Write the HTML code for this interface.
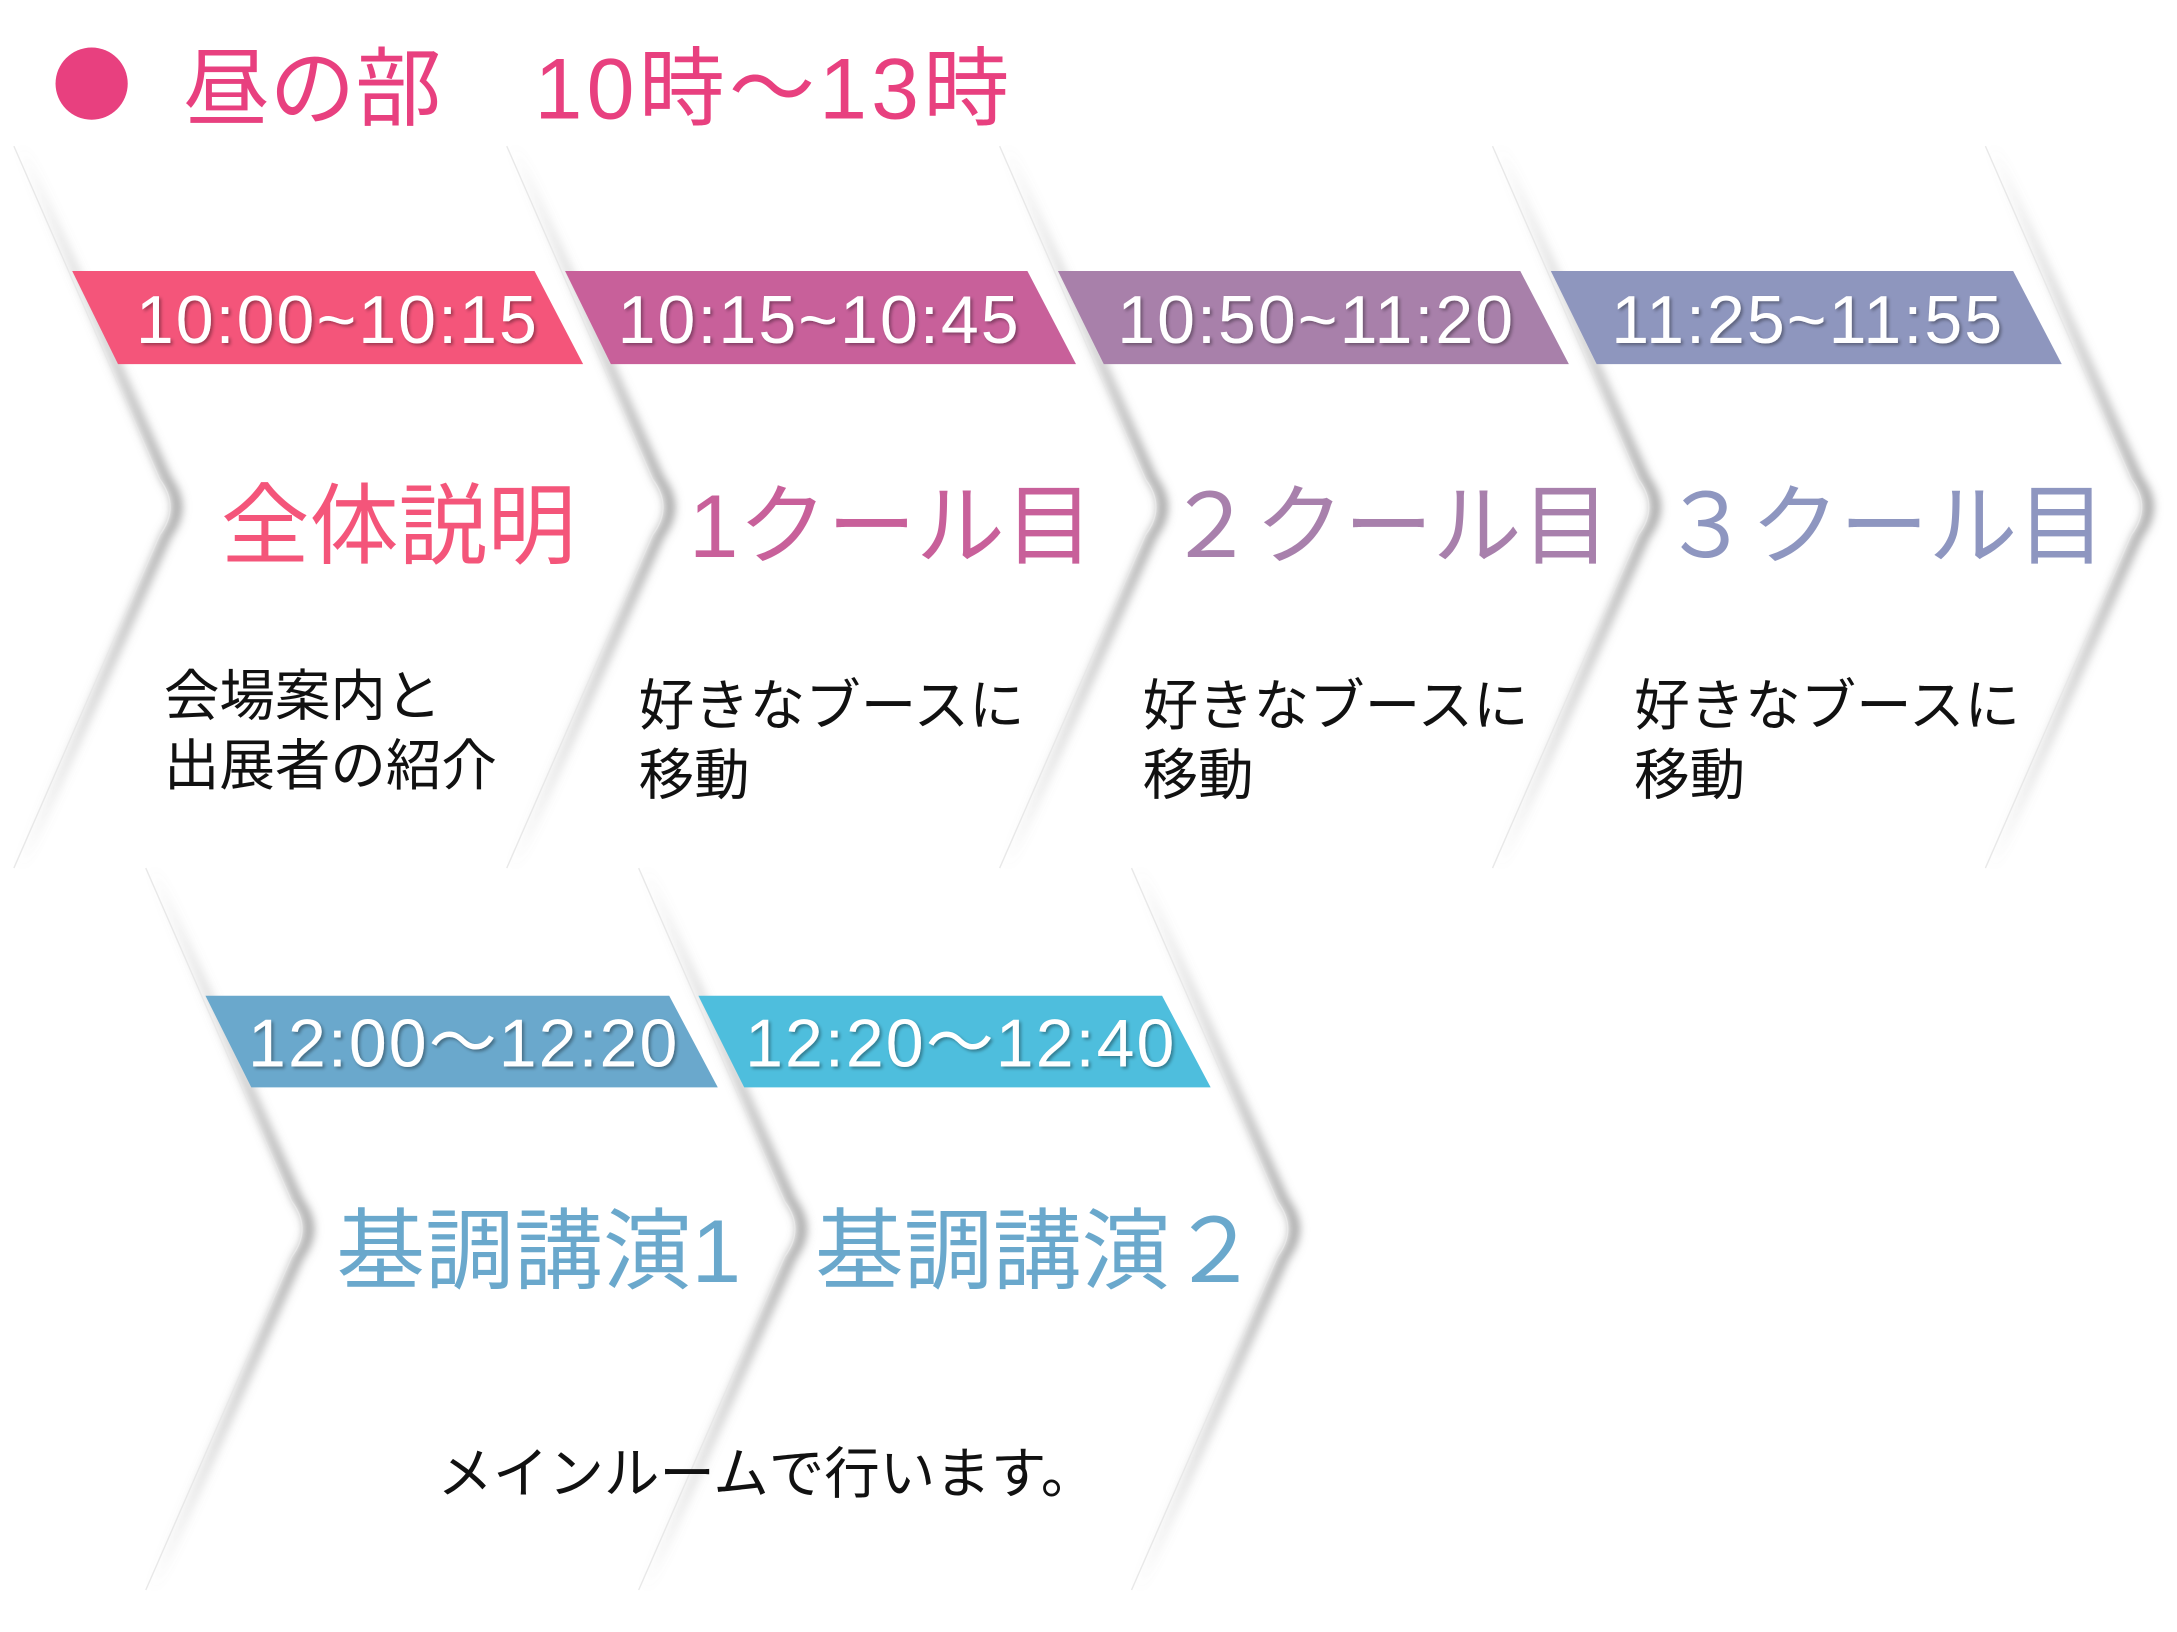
<!DOCTYPE html>
<html><head><meta charset="utf-8"><style>
html,body{margin:0;padding:0;background:#fff;}
svg{display:block;}
text{font-family:"Liberation Sans","Noto Sans CJK JP",sans-serif;}
</style></head><body>
<svg width="2177" height="1632" viewBox="0 0 1568 1175" xmlns="http://www.w3.org/2000/svg">
<defs>
<filter id="sh" x="-20%" y="-20%" width="140%" height="140%"><feGaussianBlur stdDeviation="3.5"/></filter>
<filter id="ts" x="-10%" y="-30%" width="120%" height="160%"><feDropShadow dx="1.5" dy="1.5" stdDeviation="1.2" flood-color="#000" flood-opacity="0.35"/></filter>
<linearGradient id="g1" gradientUnits="userSpaceOnUse" x1="0" y1="105" x2="0" y2="625">
<stop offset="0" stop-color="#888" stop-opacity="0"/><stop offset="0.5" stop-color="#777" stop-opacity="0.8"/><stop offset="1" stop-color="#888" stop-opacity="0"/></linearGradient>
<linearGradient id="g2" gradientUnits="userSpaceOnUse" x1="0" y1="625" x2="0" y2="1145">
<stop offset="0" stop-color="#888" stop-opacity="0"/><stop offset="0.5" stop-color="#777" stop-opacity="0.8"/><stop offset="1" stop-color="#888" stop-opacity="0"/></linearGradient>
</defs>
<rect width="1568" height="1175" fill="#fff"/>
<circle cx="66" cy="60" r="26" fill="#E8407F"/>
<text x="132" y="85" font-size="62" fill="#E8407F">昼の部</text>
<text x="385" y="85" font-size="62" fill="#E8407F" letter-spacing="3">10時～13時</text>

<g fill="none" stroke="url(#g1)" stroke-width="6" filter="url(#sh)" transform="translate(5,0)">
<path d="M10,105 L115,345 Q130,365 115,385 L10,625"/>
<path d="M365,105 L470,345 Q485,365 470,385 L365,625"/>
<path d="M720,105 L825,345 Q840,365 825,385 L720,625"/>
<path d="M1075,105 L1180,345 Q1195,365 1180,385 L1075,625"/>
<path d="M1430,105 L1535,345 Q1550,365 1535,385 L1430,625"/>
</g>
<g fill="none" stroke="url(#g2)" stroke-width="6" filter="url(#sh)" transform="translate(5,0)">
<path d="M105,625 L210,865 Q225,885 210,905 L105,1145"/>
<path d="M460,625 L565,865 Q580,885 565,905 L460,1145"/>
<path d="M815,625 L920,865 Q935,885 920,905 L815,1145"/>
</g>
<g fill="none" stroke="#e8e8e8" stroke-width="1">
<path d="M10,105 L115,345 Q130,365 115,385 L10,625"/>
<path d="M365,105 L470,345 Q485,365 470,385 L365,625"/>
<path d="M720,105 L825,345 Q840,365 825,385 L720,625"/>
<path d="M1075,105 L1180,345 Q1195,365 1180,385 L1075,625"/>
<path d="M1430,105 L1535,345 Q1550,365 1535,385 L1430,625"/>
<path d="M105,625 L210,865 Q225,885 210,905 L105,1145"/>
<path d="M460,625 L565,865 Q580,885 565,905 L460,1145"/>
<path d="M815,625 L920,865 Q935,885 920,905 L815,1145"/>
</g>

<polygon points="52,195 385,195 420,262 85,262" fill="#F4557A"/>
<polygon points="407,195 740,195 775,262 440,262" fill="#C8609A"/>
<polygon points="762,195 1095,195 1130,262 795,262" fill="#A880AA"/>
<polygon points="1117,195 1450,195 1485,262 1150,262" fill="#8E96BE"/>
<polygon points="148,717 482,717 517,783 181,783" fill="#6AA8CC"/>
<polygon points="503,717 837,717 872,783 536,783" fill="#4EBEDD"/>

<g fill="#fff" font-size="49" filter="url(#ts)" text-anchor="middle" letter-spacing="1.5">
<text x="243" y="247">10:00~10:15</text>
<text x="590" y="247">10:15~10:45</text>
<text x="948" y="247">10:50~11:20</text>
<text x="1302" y="247">11:25~11:55</text>
<text x="334" y="768">12:00～12:20</text>
<text x="692" y="768">12:20～12:40</text>
</g>

<g font-size="64" text-anchor="middle">
<text x="287" y="401" fill="#F4557A">全体説明</text>
<text x="642" y="401" fill="#C8609A">1クール目</text>
<text x="1000" y="401" fill="#A880AC">２クール目</text>
<text x="1357" y="401" fill="#8E96C0">３クール目</text>
<text x="388" y="923" fill="#6AA8CC">基調講演1</text>
<text x="747" y="923" fill="#6AA8CC">基調講演２</text>
</g>

<g font-size="40" fill="#111">
<text x="118" y="515">会場案内と</text>
<text x="118" y="565">出展者の紹介</text>
<text x="460" y="522">好きなブースに</text>
<text x="460" y="572">移動</text>
<text x="823" y="522">好きなブースに</text>
<text x="823" y="572">移動</text>
<text x="1177" y="522">好きなブースに</text>
<text x="1177" y="572">移動</text>
<text x="315" y="1075">メインルームで行います。</text>
</g>
</svg>
</body></html>
